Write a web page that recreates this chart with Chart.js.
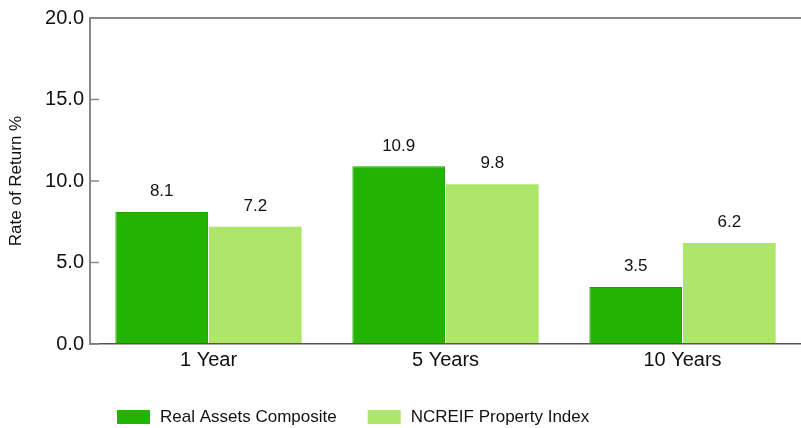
<!DOCTYPE html>
<html lang="en">
<head>
  <meta charset="UTF-8" />
  <title>Rate of Return</title>
  <script src="https://cdn.jsdelivr.net/npm/chart.js"></script>
  <style>
    html, body { margin: 0; padding: 0; background: #fff; }
    #wrap { width: 801px; height: 428px; position: relative; }
  </style>
</head>
<body>
  <div id="wrap"><canvas id="grafico"></canvas></div>

  <script>
    // data
    const categories = ['1 Year', '5 Years', '10 Years'];
    const realAssets = [8.1, 10.9, 3.5];
    const ncreif = [7.2, 9.8, 6.2];
    const seriesNames = ['Real Assets Composite', 'NCREIF Property Index'];
    const yTicks = [0, 5, 10, 15, 20];

    const FONT = "'Liberation Sans', Arial, sans-serif";

    // value labels above bars, inner tick marks and bottom legend
    const extras = {
      id: 'extras',
      afterDatasetsDraw(chart) {
        const ctx = chart.ctx;
        ctx.save();
        ctx.fillStyle = '#111';
        ctx.font = '17px ' + FONT;
        ctx.textAlign = 'center';
        ctx.textBaseline = 'bottom';
        chart.data.datasets.forEach((ds, i) => {
          chart.getDatasetMeta(i).data.forEach((bar, j) => {
            ctx.fillText(ds.data[j].toFixed(1), bar.x, bar.y - 12);
          });
        });

        // tick marks inside the plot
        const y = chart.scales.y;
        ctx.strokeStyle = '#888';
        ctx.lineWidth = 1.5;
        yTicks.forEach(v => {
          const py = y.getPixelForValue(v);
          ctx.beginPath();
          ctx.moveTo(y.right, py);
          ctx.lineTo(y.right + 9, py);
          ctx.stroke();
        });

        // legend
        let lx = 117;
        const ly = 417;
        ctx.textAlign = 'left';
        ctx.textBaseline = 'middle';
        ctx.font = '17px ' + FONT;
        chart.data.datasets.forEach(ds => {
          ctx.fillStyle = ds.backgroundColor;
          ctx.fillRect(lx, ly - 7, 33, 14);
          ctx.fillStyle = '#111';
          ctx.fillText(ds.label, lx + 43, ly);
          lx += 43 + ctx.measureText(ds.label).width + 31;
        });
        ctx.restore();
      }
    };

    new Chart(document.getElementById('grafico'), {
      type: 'bar',
      data: {
        labels: categories,
        datasets: [
          { label: seriesNames[0], data: realAssets, backgroundColor: '#22b400',
            borderColor: '#1ea300', borderWidth: 1, categoryPercentage: 0.79, barPercentage: 0.99 },
          { label: seriesNames[1], data: ncreif, backgroundColor: '#aee66a',
            categoryPercentage: 0.79, barPercentage: 0.99 }
        ]
      },
      options: {
        responsive: true,
        maintainAspectRatio: false,
        animation: false,
        layout: { padding: { top: 18, right: 0, bottom: 60, left: 0 } },
        plugins: {
          legend: { display: false },
          tooltip: { enabled: false }
        },
        scales: {
          x: {
            grid: { display: false },
            border: { display: true, color: '#555', width: 1.5 },
            ticks: { color: '#111', font: { size: 20, family: FONT }, padding: -4 }
          },
          y: {
            min: 0,
            max: 20,
            afterFit(scale) { scale.width = 90; },
            afterBuildTicks(scale) { scale.ticks = yTicks.map(v => ({ value: v })); },
            grid: {
              drawTicks: false,
              lineWidth: 2,
              color: c => (c.tick && c.tick.value === 20) ? '#888' : 'rgba(0,0,0,0)'
            },
            border: { display: true, color: '#888', width: 2 },
            title: {
              display: true,
              text: 'Rate of Return %',
              color: '#111',
              font: { size: 17, family: FONT },
              padding: { top: 6, bottom: 0 }
            },
            ticks: {
              color: '#111',
              padding: 6,
              font: { size: 20, family: FONT },
              callback: v => v.toFixed(1)
            }
          }
        }
      },
      plugins: [extras]
    });
  </script>
</body>
</html>
